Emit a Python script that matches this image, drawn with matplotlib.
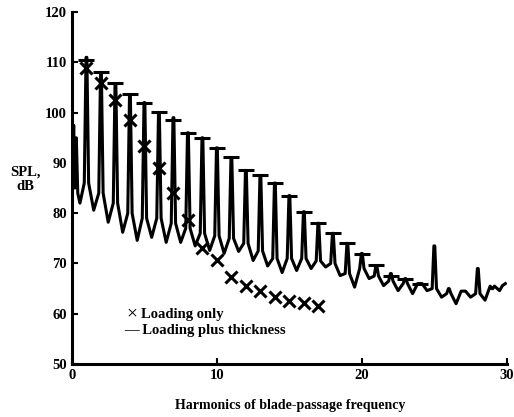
import matplotlib

matplotlib.use("Agg")
import matplotlib.pyplot as plt

# spectrum: harmonic number, spike top, level at spike foot,
# and the trough level half a harmonic after each spike
harm = list(range(1, 30))
peak_db = [111, 108, 105.5, 103.5, 102, 100, 99, 96, 95, 93, 91, 88.5, 87.5, 86,
           83.5, 80.3, 78, 76, 74, 72, 69.6, 68, 67, 66, 73.5, 65, 64.5, 69, 65]
foot_db = [86, 84, 82, 80, 79, 79, 78, 77, 76, 75.5, 75, 74, 72.5, 71, 71, 71,
           70.5, 70, 68, 69, 67.5, 66.5, 66, 66, 65, 64, 64.5, 64, 65.5]
trough_db = [80.6, 78.2, 76.2, 74.6, 75.2, 74.2, 74.2, 73.5, 72.6, 72, 72.4, 70.6,
             69.5, 68.2, 68.6, 69, 69.3, 67.6, 65.3, 67, 65.6, 64.6, 64, 64.6,
             63.3, 62, 63.3, 62.7, 64.6]
# the low-frequency clutter before the first harmonic, and the tail after the last
start_h = [0.05, 0.12, 0.2, 0.3, 0.4, 0.55]
start_db = [90, 97.5, 85, 95, 84, 82]
end_h = [29.7, 29.9]
end_db = [65.6, 66]

# predictions
loading_h = list(range(1, 18))
loading_db = [108.8, 105.8, 102.6, 98.5, 93.3, 88.9, 84, 78.6, 73, 70.6, 67.3,
              65.5, 64.5, 63.3, 62.5, 62.1, 61.5]
thick_h = list(range(1, 25))
thick_db = [110.4, 108, 105.8, 103.8, 102, 100.2, 98.5, 95.9, 94.9, 92.9, 91.1,
            88.5, 87.5, 86, 83.5, 80.3, 78.1, 76.1, 74.1, 71.9, 69.6, 67.5, 67, 66]

yticks = [50, 60, 70, 80, 90, 100, 110, 120]
xticks = [0, 10, 20, 30]

SERIF = ["Liberation Serif", "DejaVu Serif"]

# build the polyline spike by spike
line_h = list(start_h)
line_db = list(start_db)
for n, p, f, t in zip(harm, peak_db, foot_db, trough_db):
    line_h += [n - 0.15, n - 0.03, n + 0.03, n + 0.15, n + 0.5]
    line_db += [f, p, p, f, t]
line_h += end_h
line_db += end_db

fig = plt.figure(figsize=(5.14, 4.17), dpi=100)
ax = fig.add_axes([0.140, 0.127, 0.846, 0.844])

ax.plot(line_h, line_db, color="black", lw=2.2, solid_joinstyle="round")
ax.plot(loading_h, loading_db, ls="none", marker="x", ms=8, mew=2.2, color="black")
ax.plot(thick_h, thick_db, ls="none", marker="_", ms=12, mew=2.2, color="black")

ax.set_xlim(0, 30)
ax.set_ylim(50, 120)
ax.set_xticks(xticks)
ax.set_yticks(yticks)
for s in ("top", "right"):
    ax.spines[s].set_visible(False)
for s in ("left", "bottom"):
    ax.spines[s].set_linewidth(2.2)
ax.tick_params(direction="in", length=4, width=1.5, labelsize=10.5)
for lab in ax.get_xticklabels() + ax.get_yticklabels():
    lab.set_family(SERIF)
    lab.set_fontweight("bold")

ax.text(3.75, 59.9, "\u00d7", family=SERIF, fontsize=14, va="center")
ax.text(4.75, 59.9, "Loading only", family=SERIF, fontsize=10.5,
        fontweight="bold", va="center")
ax.text(3.6, 56.6, "\u2014 Loading plus thickness", family=SERIF, fontsize=10.5,
        fontweight="bold", va="center")

fig.text(0.05, 0.57, "SPL,\ndB", family=SERIF, fontsize=10.5, fontweight="bold",
         ha="center", va="center", linespacing=1.1)
fig.text(0.565, 0.028, "Harmonics of blade-passage frequency", family=SERIF,
         fontsize=10, fontweight="bold", ha="center", va="center")

fig.savefig("out.png", dpi=100)
